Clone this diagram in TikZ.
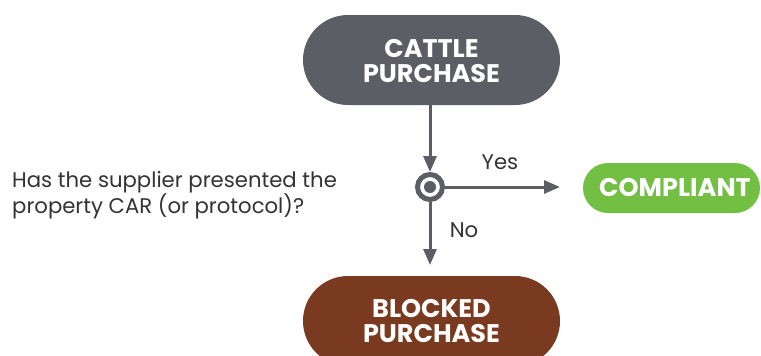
\documentclass[tikz,border=0pt]{standalone}
\usepackage{fontspec}
\setmainfont{Poppins}
\usetikzlibrary{arrows.meta}
\definecolor{cgray}{HTML}{5B5E64}
\definecolor{cgreen}{HTML}{72BF44}
\definecolor{cbrown}{HTML}{7A3A20}
\definecolor{ctext}{HTML}{333333}
\tikzset{
  pill/.style={text=white, font=\bfseries\fontsize{25.5}{25}\selectfont, align=center, inner sep=0pt},
  flow/.style={draw=cgray, line width=3pt, -{Triangle[length=16pt,width=13pt]}},
  lbl/.style={text=ctext, font=\fontsize{21.2}{25}\selectfont, inner sep=0pt},
}
\begin{document}
\begin{tikzpicture}[x=1pt,y=-1pt]
\useasboundingbox (0,0) rectangle (761,356);
\begin{scope}
\clip (0,0) rectangle (761,356);
\fill[cgray, rounded corners=45pt] (303,15) rectangle (560,105);
\fill[cgreen, rounded corners=25pt] (583,163) rectangle (760,213);
\fill[cbrown, rounded corners=45pt] (303,276) rectangle (560,366);
\end{scope}
\node[pill] (cattle) at (431.5,61) {CATTLE\\PURCHASE};
\node[pill] (compl) at (675,188) {COMPLIANT};
\node[pill] (blocked) at (431.5,321) {BLOCKED\\PURCHASE};
\coordinate (ctop) at (431,105);
\node[circle, draw=cgray, line width=5pt, fill=white, minimum size=25pt, inner sep=0pt, outer sep=2.5pt] (dec) at (430,187) {};
\fill[cgray] (dec.center) circle (6pt);
\coordinate (yesend) at (560,187);
\coordinate (noend) at (430,265);
\draw[flow] (ctop -| dec) -- (dec.north);
\draw[flow] (dec.east) -- (yesend);
\draw[flow] (dec.south) -- (noend);
\node[lbl] (yes) at (500,162) {Yes};
\node[lbl] (no) at (464,230) {No};
\node[lbl, align=left, anchor=west] (q) at (12,195) {Has the supplier presented the\\property CAR (or protocol)?};
\end{tikzpicture}
\end{document}
